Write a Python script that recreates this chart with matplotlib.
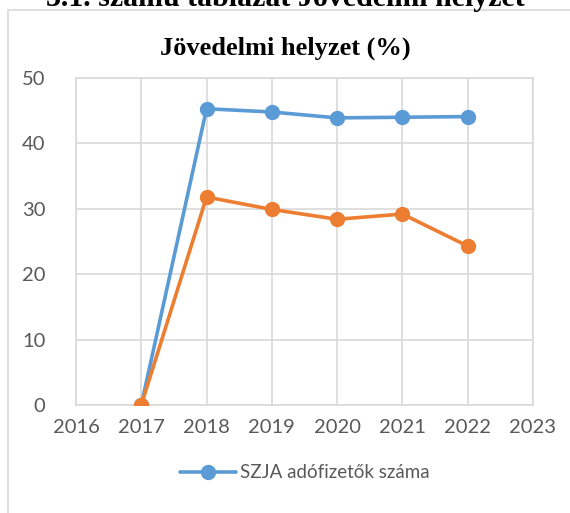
import matplotlib.pyplot as plt
from matplotlib.patches import Rectangle

years = [2017, 2018, 2019, 2020, 2021, 2022]
szja = [0, 45.3, 44.8, 43.9, 44.0, 44.1]
masik = [0, 31.8, 29.9, 28.4, 29.2, 24.3]
xticks = [2016, 2017, 2018, 2019, 2020, 2021, 2022, 2023]
yticks = [0, 10, 20, 30, 40, 50]

blue = '#5b9bd5'
orange = '#ed7d31'
grid_c = '#d9d9d9'
txt_c = '#595959'

fig = plt.figure(figsize=(5.7, 5.13), dpi=100)
ax = fig.add_axes([76 / 570, 1 - 405 / 513, (533 - 76) / 570, (405 - 78) / 513])

ax.plot(years, szja, color=blue, lw=2.6, marker='o', ms=10, label='SZJA adófizetők száma',
        solid_capstyle='round', zorder=3)
ax.plot(years, masik, color=orange, lw=2.6, marker='o', ms=10, solid_capstyle='round', zorder=3)

ax.set_xlim(2016, 2023)
ax.set_ylim(0, 50)
ax.set_xticks(xticks)
ax.set_yticks(yticks)
ax.grid(True, color=grid_c, lw=1.2)
ax.set_axisbelow(True)
for s in ax.spines.values():
    s.set_color(grid_c)
    s.set_linewidth(1.2)
ax.tick_params(length=0, labelsize=14.5, colors=txt_c)
ax.tick_params(axis='x', pad=10)
ax.tick_params(axis='y', pad=22)
for lab in ax.get_xticklabels() + ax.get_yticklabels():
    lab.set_family('Lato')

fig.text(0.5, 1 - 48 / 513, 'Jövedelmi helyzet (%)', ha='center', va='center',
         family='Liberation Serif', fontweight='bold', fontsize=19, color='black')
fig.text(0.5, 1 - 6 / 513, '3.1. számú táblázat Jövedelmi helyzet', ha='center', va='baseline',
         family='Liberation Serif', fontweight='bold', fontsize=21.5, color='black')

leg = fig.legend(loc='center', bbox_to_anchor=(305 / 570, 1 - 473 / 513), frameon=False,
                 prop={'family': 'Lato', 'size': 13.5}, handlelength=3.0, handletextpad=0.2)
for t in leg.get_texts():
    t.set_color(txt_c)

fig.patches.append(Rectangle((8 / 570, -0.1), 1.2, 1 - 10 / 513 + 0.1, transform=fig.transFigure,
                             fill=False, edgecolor=grid_c, lw=1.2))

fig.savefig('out.png', dpi=100)
